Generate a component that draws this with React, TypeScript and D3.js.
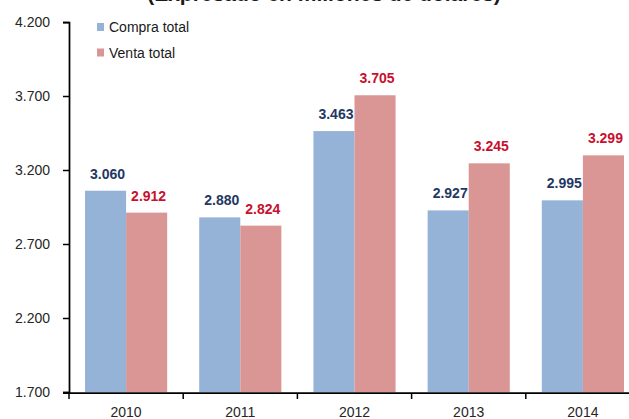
import React, { useEffect, useRef } from "react";
import * as d3 from "d3";

const years = ["2010", "2011", "2012", "2013", "2014"];
const compra = [3060, 2880, 3463, 2927, 2995];
const venta = [2912, 2824, 3705, 3245, 3299];
const seriesNames = ["Compra total", "Venta total"];
const seriesColors = ["#95B3D7", "#D99694"];
const labelColors = ["#1F3864", "#C8102E"];
const yTicks = [1700, 2200, 2700, 3200, 3700, 4200];
const title = "(Expresado en millones de dólares)";

const W = 629;
const H = 419;
const font = "'Liberation Sans', Arial, sans-serif";

const locale = d3.formatLocale({
    decimal: ",",
    thousands: ".",
    grouping: [3],
    currency: ["", ""],
});
const fmt = locale.format(",d");

export default function App() {
    const ref = useRef<SVGSVGElement>(null);

    useEffect(() => {
        const svg = d3.select(ref.current);
        svg.selectAll("*").remove();

        const left = 69;
        const step = 114.2;
        const top = 22;
        const bottom = 392;

        const x = d3
            .scaleBand()
            .domain(years)
            .range([left, left + step * years.length])
            .padding(0);

        const x1 = d3
            .scaleBand()
            .domain(seriesNames)
            .range([0, x.bandwidth()])
            .paddingInner(0)
            .paddingOuter(0.39);

        const y = d3.scaleLinear().domain([1700, 4200]).range([bottom, top]);

        // title, mostly cut off by the top edge
        svg.append("text")
            .attr("x", 324)
            .attr("y", 0.5)
            .attr("text-anchor", "middle")
            .attr("font-family", font)
            .attr("font-weight", "bold")
            .attr("font-size", 21)
            .attr("fill", "#1a1a1a")
            .text(title);

        const data = years.map((yr, i) => ({ year: yr, values: [compra[i], venta[i]] }));

        const groups = svg
            .append("g")
            .selectAll("g")
            .data(data)
            .join("g")
            .attr("transform", (d) => `translate(${x(d.year)},0)`);

        groups
            .selectAll("rect")
            .data((d) => d.values.map((v, k) => ({ v, k })))
            .join("rect")
            .attr("x", (d) => x1(seriesNames[d.k])!)
            .attr("y", (d) => y(d.v))
            .attr("width", x1.bandwidth())
            .attr("height", (d) => bottom - y(d.v))
            .attr("fill", (d) => seriesColors[d.k]);

        groups
            .selectAll("text")
            .data((d) => d.values.map((v, k) => ({ v, k })))
            .join("text")
            .attr("x", (d) => x1(seriesNames[d.k])! + x1.bandwidth() / 2 + 2)
            .attr("y", (d) => y(d.v) - 12)
            .attr("text-anchor", "middle")
            .attr("font-family", font)
            .attr("font-weight", "bold")
            .attr("font-size", 14)
            .attr("fill", (d) => labelColors[d.k])
            .text((d) => fmt(d.v));

        // y axis
        const yAxis = svg
            .append("g")
            .attr("transform", `translate(${left},0)`)
            .call(
                d3
                    .axisLeft(y)
                    .tickValues(yTicks)
                    .tickSize(6)
                    .tickPadding(13)
                    .tickFormat((d) => fmt(d as number))
            );
        yAxis.select(".domain").attr("stroke", "#000").attr("stroke-width", 1.75);
        yAxis.selectAll(".tick line").attr("stroke", "#000").attr("stroke-width", 1.5);
        yAxis
            .selectAll(".tick text")
            .attr("font-family", font)
            .attr("font-size", 14)
            .attr("fill", "#262626");

        // x axis
        const xAxis = svg.append("g");
        xAxis
            .append("line")
            .attr("x1", left - 6)
            .attr("x2", x.range()[1])
            .attr("y1", bottom + 1)
            .attr("y2", bottom + 1)
            .attr("stroke", "#000")
            .attr("stroke-width", 1.75);
        xAxis
            .selectAll("line.tk")
            .data(years)
            .join("line")
            .attr("class", "tk")
            .attr("x1", (d) => x(d)!)
            .attr("x2", (d) => x(d)!)
            .attr("y1", bottom + 1)
            .attr("y2", bottom + 7)
            .attr("stroke", "#000")
            .attr("stroke-width", 1.5);
        xAxis
            .selectAll("text")
            .data(years)
            .join("text")
            .attr("x", (d) => x(d)! + x.bandwidth() / 2)
            .attr("y", 417)
            .attr("text-anchor", "middle")
            .attr("font-family", font)
            .attr("font-size", 14)
            .attr("fill", "#262626")
            .text((d) => d);

        // legend
        const legend = svg
            .append("g")
            .selectAll("g")
            .data(seriesNames)
            .join("g")
            .attr("transform", (_, i) => `translate(97,${23 + i * 25.5})`);
        legend
            .append("rect")
            .attr("width", 7)
            .attr("height", 8)
            .attr("fill", (_, i) => seriesColors[i]);
        legend
            .append("text")
            .attr("x", 12)
            .attr("y", 9)
            .attr("font-family", font)
            .attr("font-size", 14)
            .attr("fill", "#1a1a1a")
            .text((d) => d);
    }, []);

    return (
        <svg
            ref={ref}
            width={W}
            height={H}
            style={{ position: "absolute", left: 0, top: 0, background: "#fff" }}
        />
    );
}
